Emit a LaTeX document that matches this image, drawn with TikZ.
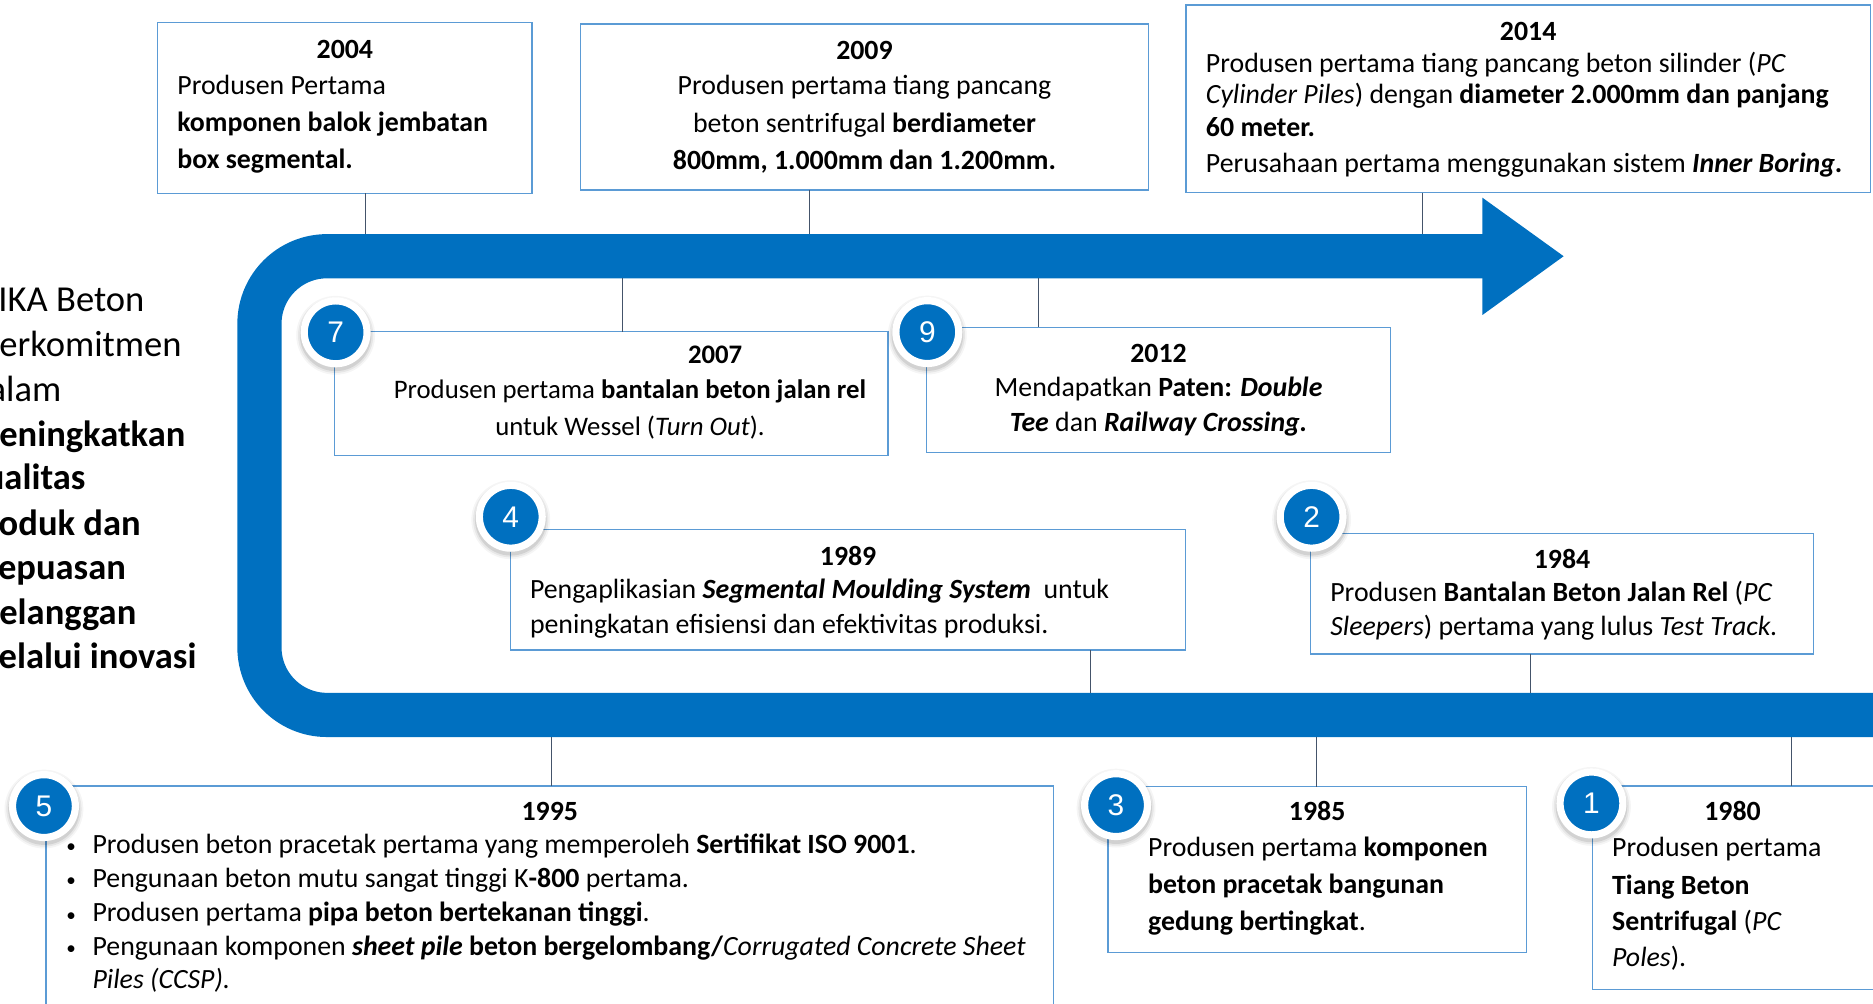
\documentclass[tikz,border=0pt]{standalone}
\usepackage{fontspec}
\setmainfont{Carlito}
\newfontfamily\badgefont{Liberation Sans}
\definecolor{wblue}{HTML}{0070C0}
\definecolor{wbord}{HTML}{5B9BD5}
\definecolor{wconn}{HTML}{44546A}
\newcommand\ybox[5]{\node[box, minimum width=#4pt-#2pt, minimum height=#5pt-#3pt] (#1) at (#2,#3) {};}
\newcommand\badge[4]{%
  \foreach \r/\o in {33/0.04,31.5/0.06,30/0.09}{\fill[black,opacity=\o] (#2,#3+2.5) circle (\r pt);}
  \node[badge] (#1) at (#2,#3) {#4};}
\begin{document}
\begin{tikzpicture}[x=1pt,y=-1pt,
  box/.style={draw=wbord, line width=1.2pt, fill=white, rectangle, inner sep=0, outer sep=0, anchor=north west},
  conn/.style={draw=wconn, line width=0.9pt},
  txt/.style={inner sep=0, outer sep=0, font=\fontsize{23.3}{28}\selectfont},
  yr/.style={inner sep=0, outer sep=0, font=\fontsize{23.3}{28}\selectfont\bfseries, anchor=base},
  lw/.style={txt, anchor=base west},
  lc/.style={txt, anchor=base},
  sm/.style={font=\fontsize{22.4}{28}\selectfont},
  smb/.style={font=\fontsize{22.4}{28}\selectfont\bfseries},
  dot/.style={inner sep=0, outer sep=0, anchor=base, font=\fontsize{16}{16}\selectfont},
  lead/.style={inner sep=0, outer sep=0, anchor=base west, font=\fontsize{30.6}{36}\selectfont},
  leadb/.style={lead, font=\fontsize{30.6}{36}\selectfont\bfseries},
  badge/.style={circle, fill=wblue, draw=white, line width=6pt, minimum size=52.6pt, inner sep=0, text=white, font=\badgefont\fontsize{25}{25}\selectfont}
]
\useasboundingbox (0,0) rectangle (1568,840.5);
\clip (0,0) rectangle (1568,840.5);

% band
\draw[wblue, line width=37pt, rounded corners=56.5pt] (1243,214.5) -- (217.2,214.5) -- (217.2,598.5) -- (1600,598.5);
\fill[wblue] (1241,165.5) -- (1309,214.5) -- (1241,263.7) -- cycle;

% left statement (cut off by the picture's left edge)
\node[lead] (m1) at (-28.5,260.4) {WIKA Beton};
\node[lead] (m2) at (-16.5,298.6) {berkomitmen};
\node[lead] (m3) at (-25.5,336.3) {dalam};
\node[leadb] (m4) at (-25.5,373.4) {meningkatkan};
\node[leadb] (m5) at (-27,410.2) {kualitas};
\node[leadb] (m6) at (-28,447.9) {produk dan};
\node[leadb] (m7) at (-15.5,485.0) {kepuasan};
\node[leadb] (m8) at (-17,522.4) {pelanggan};
\node[leadb] (m9) at (-26,559.5) {melalui inovasi};

% boxes
\ybox{b2004}{132}{18.7}{445.4}{161.9}
\ybox{b2009}{486}{20.1}{961.4}{159}
\ybox{b2014}{992.7}{4.2}{1565.9}{161.3}
\ybox{b2007}{280}{277.7}{743.5}{381.5}
\ybox{b2012}{775.8}{274}{1164}{378.7}
\ybox{b1989}{427.6}{443.2}{992.5}{544.2}
\ybox{b1984}{1097}{446.5}{1518.4}{547.5}
\ybox{b1995}{38.5}{658}{882}{870}
\ybox{b1985}{927.4}{658.6}{1278}{797.6}
\ybox{b1980}{1333.2}{658}{1570}{828.3}

% connectors
\coordinate (c2004) at (306.3,196);
\coordinate (c2009) at (677.8,196);
\coordinate (c2014) at (1191,196);
\coordinate (c2007) at (521.5,233);
\coordinate (c2012) at (869.4,233);
\coordinate (c1989) at (913,580);
\coordinate (c1984) at (1281.5,580);
\coordinate (c1995) at (461.3,617);
\coordinate (c1985) at (1102.3,617);
\coordinate (c1980) at (1499.4,617);
\draw[conn] (c2004 |- b2004.south) -- (c2004);
\draw[conn] (c2009 |- b2009.south) -- (c2009);
\draw[conn] (c2014 |- b2014.south) -- (c2014);
\draw[conn] (c2007 |- b2007.north) -- (c2007);
\draw[conn] (c2012 |- b2012.north) -- (c2012);
\draw[conn] (c1989 |- b1989.south) -- (c1989);
\draw[conn] (c1984 |- b1984.south) -- (c1984);
\draw[conn] (c1995 |- b1995.north) -- (c1995);
\draw[conn] (c1985 |- b1985.north) -- (c1985);
\draw[conn] (c1980 |- b1980.north) -- (c1980);

% 2004
\node[yr] (y2004) at (288.7,48.8) {2004};
\node[lw] (t2004a) at (148.5,79.5) {Produsen Pertama};
\node[lw] (t2004b) at (148.5,110.3) {\textbf{komponen balok jembatan}};
\node[lw] (t2004c) at (148.5,141) {\textbf{box segmental.}};
% 2009
\node[yr] (y2009) at (723.7,50.2) {2009};
\node[lc] (t2009a) at (723.7,79.5) {Produsen pertama tiang pancang};
\node[lc] (t2009b) at (723.7,111) {beton sentrifugal \textbf{berdiameter}};
\node[lc] (t2009c) at (723.7,142.3) {\textbf{800mm, 1.000mm dan 1.200mm.}};
% 2014
\node[yr] (y2014) at (1279.3,33.5) {2014};
\node[lw] (t2014a) at (1009.6,60.8) {Produsen pertama tiang pancang beton silinder (\textit{PC}};
\node[lw] (t2014b) at (1009.6,87) {\textit{Cylinder Piles}) dengan \textbf{diameter 2.000mm dan panjang}};
\node[lw] (t2014c) at (1009.6,113.9) {\textbf{60 meter.}};
\node[lw] (t2014d) at (1009.6,144.6) {Perusahaan pertama menggunakan sistem \textbf{\textit{Inner Boring}.}};
% 2007
\node[yr,smb] (y2007) at (598.7,304.2) {2007};
\node[lc,sm] (t2007a) at (527.4,333.5) {Produsen pertama \textbf{bantalan beton jalan rel}};
\node[lc,sm] (t2007b) at (527.4,364.2) {untuk Wessel (\textit{Turn Out}).};
% 2012
\node[yr] (y2012) at (969.9,303.6) {2012};
\node[lc] (t2012a) at (969.9,332.1) {Mendapatkan \textbf{Paten: \textit{Double}}};
\node[lc] (t2012b) at (969.9,361.4) {\textbf{\textit{Tee}} dan \textbf{\textit{Railway Crossing.}}};
% 1989
\node[yr] (y1989) at (710,473) {1989};
\node[lw] (t1989a) at (443.7,500.9) {Pengaplikasian \textbf{\textit{Segmental Moulding System}}\ \ untuk};
\node[lw] (t1989b) at (443.7,530.2) {peningkatan efisiensi dan efektivitas produksi.};
% 1984
\node[yr] (y1984) at (1307.7,475.8) {1984};
\node[lw] (t1984a) at (1113.7,503.7) {Produsen \textbf{Bantalan Beton Jalan Rel} (\textit{PC}};
\node[lw] (t1984b) at (1113.7,531.6) {\textit{Sleepers}) pertama yang lulus \textit{Test Track.}};
% 1995
\node[yr] (y1995) at (460.3,686.5) {1995};
\node[dot] (d1) at (59.5,713.9) {•};
\node[dot] (d2) at (59.5,742.4) {•};
\node[dot] (d3) at (59.5,771.1) {•};
\node[dot] (d4) at (59.5,799.0) {•};
\node[lw] (t1995a) at (77.5,714.4) {Produsen beton pracetak pertama yang memperoleh \textbf{Sertifikat ISO 9001}.};
\node[lw] (t1995b) at (77.5,742.9) {Pengunaan beton mutu sangat tinggi K\textbf{-800} pertama.};
\node[lw] (t1995c) at (77.5,771.6) {Produsen pertama \textbf{pipa beton bertekanan tinggi}.};
\node[lw] (t1995d) at (77.5,799.5) {Pengunaan komponen \textbf{\textit{sheet pile}} \textbf{beton bergelombang/}\textit{Corrugated Concrete Sheet}};
\node[lw] (t1995e) at (77.5,827.4) {\textit{Piles (CCSP).}};
% 1985
\node[yr] (y1985) at (1102.7,686.5) {1985};
\node[lw] (t1985a) at (961.2,717.2) {Produsen pertama \textbf{komponen}};
\node[lw] (t1985b) at (961.2,747.9) {\textbf{beton pracetak bangunan}};
\node[lw] (t1985c) at (961.2,779.2) {\textbf{gedung bertingkat}.};
% 1980
\node[yr] (y1980) at (1450.4,686.5) {1980};
\node[lw] (t1980a) at (1349.6,717.2) {Produsen pertama};
\node[lw] (t1980b) at (1349.6,748.5) {\textbf{Tiang Beton}};
\node[lw] (t1980c) at (1349.6,779.2) {\textbf{Sentrifugal} (\textit{PC}};
\node[lw] (t1980d) at (1349.6,809.3) {\textit{Poles}).};

% badges
\badge{k7}{281}{278.2}{7}
\badge{k9}{776.3}{278}{9}
\badge{k4}{427.6}{432.6}{4}
\badge{k2}{1098}{432.6}{2}
\badge{k5}{36.8}{674.8}{5}
\badge{k3}{934.3}{674}{3}
\badge{k1}{1332.3}{672.6}{1}
\end{tikzpicture}
\end{document}
